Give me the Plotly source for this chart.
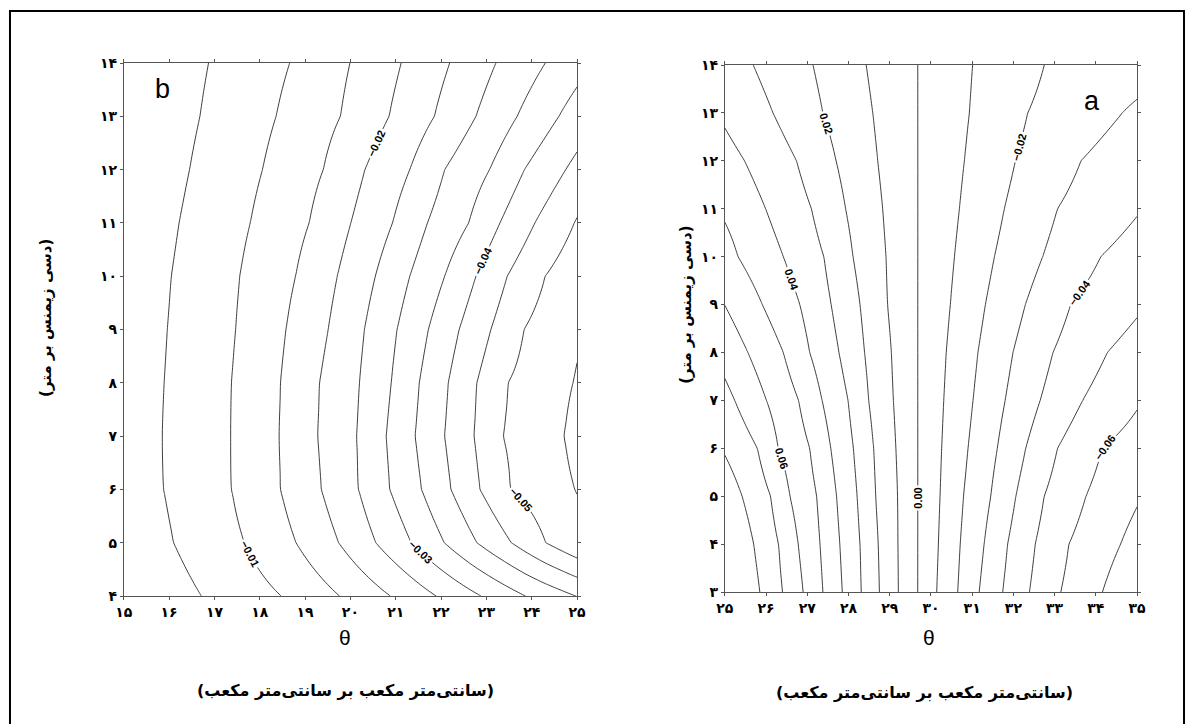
import numpy as np
import plotly.graph_objects as go

# ---------------- Panel b (left) ----------------
b_rows = [4, 5, 6, 7, 8, 9, 10, 11, 12, 13, 14]
b_levels = [-0.005, -0.010, -0.015, -0.020, -0.025, -0.030, -0.035, -0.040, -0.045, -0.050, -0.055]
# x position where each contour level crosses each row (None = no crossing)
b_m005 = [16.71, 16.10, 15.88, 15.85, 15.89, 15.96, 16.05, 16.22, 16.45, 16.68, 16.87]
b_m010 = [18.47, 17.66, 17.38, 17.36, 17.38, 17.47, 17.56, 17.79, 18.06, 18.36, 18.66]
b_m015 = [19.76, 18.80, 18.46, 18.43, 18.46, 18.58, 18.79, 19.09, 19.40, 19.78, 19.99]
b_m020 = [20.88, 19.74, 19.36, 19.28, 19.32, 19.51, 19.71, 20.01, 20.32, 20.85, 21.12]
b_m025 = [21.89, 20.56, 20.18, 20.14, 20.20, 20.31, 20.55, 20.93, 21.31, 21.85, 22.19]
b_m030 = [22.88, 21.34, 20.87, 20.79, 20.90, 21.03, 21.31, 21.70, 22.08, 22.77, 23.21]
b_m035 = [23.86, 22.07, 21.57, 21.43, 21.52, 21.72, 22.08, 22.61, 23.07, 23.68, 24.30]
b_m040 = [24.97, 22.79, 22.22, 22.08, 22.16, 22.40, 22.77, 23.30, 23.84, 24.60, None]
b_m045 = [None, 23.55, 22.86, 22.73, 22.79, 23.10, 23.46, 24.07, 24.75, None, None]
b_m050 = [None, 24.31, 23.54, 23.37, 23.48, 23.83, 24.30, 24.94, None, None, None]
b_m055 = [None, None, 24.95, 24.72, 24.91, None, None, None, None, None, None]
b_left_edge = [-0.0003, -0.0015, -0.0021, -0.0022, -0.0020, -0.0018, -0.0015, -0.0011, -0.0006, -0.0004, -0.0002]
b_right_edge = [-0.0401, -0.0540, -0.0551, -0.0565, -0.0553, -0.0545, -0.0530, -0.0504, -0.0464, -0.0422, -0.0382]
b_xticks = [15, 16, 17, 18, 19, 20, 21, 22, 23, 24, 25]
b_xtext = ["۱۵", "۱۶", "۱۷", "۱۸", "۱۹", "۲۰", "۲۱", "۲۲", "۲۳", "۲۴", "۲۵"]
b_yticks = [4, 5, 6, 7, 8, 9, 10, 11, 12, 13, 14]
b_ytext = ["۴", "۵", "۶", "۷", "۸", "۹", "۱۰", "۱۱", "۱۲", "۱۳", "۱۴"]

# ---------------- Panel a (right) ----------------
a_rows = [3, 4, 5, 6, 7, 8, 9, 10, 11, 12, 13, 14]
a_levels = [0.08, 0.07, 0.06, 0.05, 0.04, 0.03, 0.02, 0.01, 0.00, -0.01, -0.02, -0.03, -0.04, -0.05, -0.06, -0.07]
a_p08 = [25.85, 25.70, 25.42, None, None, None, None, None, None, None, None, None]
a_p07 = [26.40, 26.30, 26.11, 25.79, 25.24, None, None, None, None, None, None, None]
a_p06 = [26.90, 26.78, 26.58, 26.30, 26.01, 25.56, None, None, None, None, None, None]
a_p05 = [27.38, 27.31, 27.23, 27.06, 26.79, 26.42, 25.91, 25.32, None, None, None, None]
a_p04 = [27.85, 27.79, 27.71, 27.57, 27.36, 27.06, 26.82, 26.42, 25.99, 25.48, None, None]
a_p03 = [28.31, 28.28, 28.21, 28.12, 27.99, 27.77, 27.58, 27.40, 27.10, 26.74, 26.17, 25.69]
a_p02 = [28.75, 28.72, 28.66, 28.61, 28.49, 28.39, 28.28, 28.11, 27.93, 27.70, 27.38, 27.14]
a_p01 = [29.21, 29.20, 29.19, 29.15, 29.09, 29.04, 28.95, 28.91, 28.83, 28.71, 28.59, 28.43]
a_z00 = [29.68, 29.68, 29.68, 29.68, 29.68, 29.68, 29.68, 29.68, 29.68, 29.68, 29.68, 29.68]
a_m01 = [30.14, 30.18, 30.22, 30.26, 30.31, 30.37, 30.47, 30.57, 30.69, 30.81, 30.93, 31.01]
a_m02 = [30.65, 30.71, 30.79, 30.90, 31.02, 31.14, 31.32, 31.54, 31.78, 32.05, 32.35, 32.75]
a_m03 = [31.17, 31.29, 31.45, 31.61, 31.80, 31.99, 32.29, 32.71, 33.07, 33.64, 34.64, None]
a_m04 = [31.74, 31.86, 32.06, 32.30, 32.65, 32.96, 33.39, 34.12, None, None, None, None]
a_m05 = [32.39, 32.53, 32.75, 33.07, 33.68, 34.28, None, None, None, None, None, None]
a_m06 = [33.15, 33.35, 33.76, 34.16, None, None, None, None, None, None, None, None]
a_m07 = [34.16, 34.60, None, None, None, None, None, None, None, None, None, None]
a_left_edge = [0.095, 0.092, 0.086, 0.079, 0.073, 0.0665, 0.0599, 0.0541, 0.0484, 0.0433, 0.0385, 0.035]
a_right_edge = [-0.078, -0.0735, -0.069, -0.064, -0.059, -0.0537, -0.0486, -0.0437, -0.0393, -0.0355, -0.0316, -0.026]
a_xticks = [25, 26, 27, 28, 29, 30, 31, 32, 33, 34, 35]
a_xtext = ["۲۵", "۲۶", "۲۷", "۲۸", "۲۹", "۳۰", "۳۱", "۳۲", "۳۳", "۳۴", "۳۵"]
a_yticks = [3, 4, 5, 6, 7, 8, 9, 10, 11, 12, 13, 14]
a_ytext = ["۳", "۴", "۵", "۶", "۷", "۸", "۹", "۱۰", "۱۱", "۱۲", "۱۳", "۱۴"]

x_title = "θ"
x_unit = "(سانتی‌متر مکعب بر سانتی‌متر مکعب)"
y_title = "(دسی زیمنس بر متر)"

W, H = 1194, 724
# target positions are given in picture pixels; the photographed page maps
# onto the picture region [8, 1186] x [8, 716]
PAD = 8
PW, PH = W - 2 * PAD, H - 2 * PAD


def fx(px):
    return (px - PAD) / PW


def fy(py):
    return 1 - (py - PAD) / PH


def build_grid(xs, levels, crossings, left, right, x0, x1):
    Z = []
    for i in range(len(left)):
        px_, pz = [x0], [left[i]]
        for lev, cr in zip(levels, crossings):
            if cr[i] is not None:
                px_.append(cr[i])
                pz.append(lev)
        px_.append(x1)
        pz.append(right[i])
        Z.append(np.interp(xs, px_, pz))
    return np.array(Z)


b_x = np.linspace(15, 25, 201)
b_Z = build_grid(b_x, b_levels,
                 [b_m005, b_m010, b_m015, b_m020, b_m025, b_m030, b_m035, b_m040, b_m045, b_m050, b_m055],
                 b_left_edge, b_right_edge, 15, 25)
a_x = np.linspace(25, 35, 201)
a_Z = build_grid(a_x, a_levels,
                 [a_p08, a_p07, a_p06, a_p05, a_p04, a_p03, a_p02, a_p01, a_z00,
                  a_m01, a_m02, a_m03, a_m04, a_m05, a_m06, a_m07],
                 a_left_edge, a_right_edge, 25, 35)

LINE = "#2a2a2a"


def ctr(x, y, z, start, end, size, labels, xa, ya):
    return go.Contour(
        x=x, y=y, z=z, xaxis=xa, yaxis=ya,
        autocontour=False,
        contours=dict(start=start, end=end, size=size, coloring="lines",
                      showlabels=labels, labelformat=".2f",
                      labelfont=dict(size=11, color="black", family="Liberation Sans", weight="bold")),
        line=dict(width=0.9, smoothing=0.9),
        colorscale=[[0, LINE], [1, LINE]], showscale=False, hoverinfo="skip")


fig = go.Figure()
# panel b
fig.add_trace(ctr(b_x, b_rows, b_Z, -0.055, -0.005, 0.01, False, "x", "y"))
fig.add_trace(ctr(b_x, b_rows, b_Z, -0.05, -0.01, 0.01, True, "x", "y"))
# panel a
fig.add_trace(ctr(a_x, a_rows, a_Z, -0.07, 0.07, 0.02, False, "x2", "y2"))
fig.add_trace(ctr(a_x, a_rows, a_Z, 0.08, 0.08, 0.01, False, "x2", "y2"))
fig.add_trace(ctr(a_x, a_rows, a_Z, -0.06, 0.06, 0.02, True, "x2", "y2"))

tickfont = dict(family="DejaVu Sans", size=14, color="black")
axis_common = dict(showline=True, mirror="ticks", linecolor="#555", linewidth=1,
                   ticks="outside", ticklen=3, tickcolor="#555", showgrid=False,
                   zeroline=False, tickfont=tickfont, fixedrange=True)

fig.update_layout(
    width=W, height=H, margin=dict(l=0, r=0, t=0, b=0),
    paper_bgcolor="white", plot_bgcolor="white", showlegend=False,
    xaxis=dict(domain=[fx(123), fx(577)], range=[15, 25], anchor="y",
               tickvals=b_xticks, ticktext=["<b>%s</b>" % t for t in b_xtext], **axis_common),
    yaxis=dict(domain=[fy(596), fy(63)], range=[4, 14], anchor="x",
               tickvals=b_yticks, ticktext=["<b>%s</b>" % t for t in b_ytext], **axis_common),
    xaxis2=dict(domain=[fx(725), fx(1138)], range=[25, 35], anchor="y2",
                tickvals=a_xticks, ticktext=["<b>%s</b>" % t for t in a_xtext], **axis_common),
    yaxis2=dict(domain=[fy(592), fy(65)], range=[3, 14], anchor="x2",
                tickvals=a_yticks, ticktext=["<b>%s</b>" % t for t in a_ytext], **axis_common),
)


def at(x, y):
    return dict(x=fx(x), y=fy(y), xref="paper", yref="paper", showarrow=False,
                xanchor="center", yanchor="middle")


ann = []
ann.append(dict(text=x_title, font=dict(family="Liberation Sans", size=21, color="black"), **at(345, 637)))
ann.append(dict(text=x_title, font=dict(family="Liberation Sans", size=21, color="black"), **at(930, 637)))
ann.append(dict(text="<b>%s</b>" % x_unit, font=dict(family="DejaVu Sans", size=16, color="black"), **at(345, 690)))
ann.append(dict(text="<b>%s</b>" % x_unit, font=dict(family="DejaVu Sans", size=16, color="black"), **at(925, 692)))
ann.append(dict(text="<b>%s</b>" % y_title, textangle=-90, font=dict(family="DejaVu Sans", size=15, color="black"), **at(45, 318)))
ann.append(dict(text="<b>%s</b>" % y_title, textangle=-90, font=dict(family="DejaVu Sans", size=15, color="black"), **at(686, 305)))
ann.append(dict(text="b", font=dict(family="Liberation Sans", size=27, color="black"), **at(162, 89)))
ann.append(dict(text="a", font=dict(family="Liberation Sans", size=27, color="black"), **at(1093, 101)))
fig.update_layout(annotations=ann)

# outer frame (clipped at the figure's edges)
fig.add_shape(type="rect", xref="paper", yref="paper",
              x0=1 / W, x1=1 - 1 / W, y0=-0.05, y1=fy(11),
              line=dict(color="black", width=2), fillcolor="rgba(0,0,0,0)", layer="below")

fig.write_html("out.html", config={"displayModeBar": False},
               post_script="document.body.style.margin='0px';document.body.style.overflow='hidden';")
